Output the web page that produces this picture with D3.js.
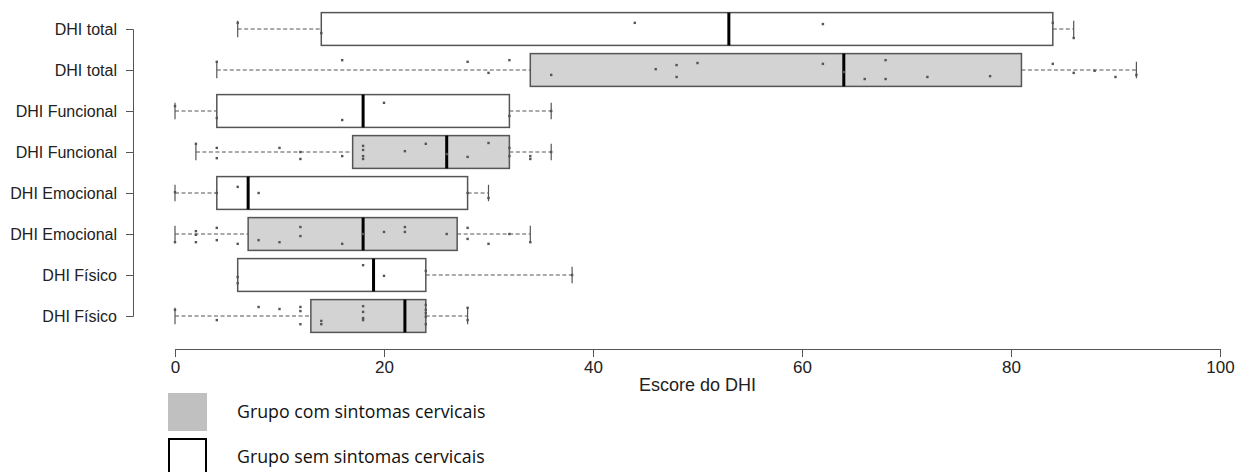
<!DOCTYPE html>
<html lang="pt">
<head>
    <meta charset="UTF-8">
    <title>Escore do DHI</title>
    <script src="https://d3js.org/d3.v7.min.js"></script>
    <style>
        body, html {
            margin: 0;
            background: #fff;
        }
        svg {
            display: block;
        }
        .axis text {
            font-family: 'Liberation Sans', Arial, sans-serif;
            fill: #222;
        }
        .axis path, .axis line {
            stroke: #555;
        }
        .legend text {
            font-family: 'Open Sans', sans-serif;
            font-size: 17.8px;
            fill: #111;
        }
    </style>
</head>
<body>
<script>
    // linhas de cima para baixo
    const rowLabels = ["DHI total", "DHI total", "DHI Funcional", "DHI Funcional",
                       "DHI Emocional", "DHI Emocional", "DHI Físico", "DHI Físico"];
    const rowGroups = ["sem", "com", "sem", "com", "sem", "com", "sem", "com"];

    // estatísticas dos boxplots
    const mins    = [6, 4, 0, 2, 0, 0, 6, 0];
    const q1s     = [14, 34, 4, 17, 4, 7, 6, 13];
    const medians = [53, 64, 18, 26, 7, 18, 19, 22];
    const q3s     = [84, 81, 32, 32, 28, 27, 24, 24];
    const maxs    = [86, 92, 36, 36, 30, 34, 38, 28];

    // pontos individuais: [escore, deslocamento vertical em fração da linha]
    const points = [
        [[6,-0.15],[14,0.1],[44,-0.15],[62,-0.12],[84,-0.15],[86,0.22]],
        [[4,-0.2],[16,-0.24],[28,-0.2],[30,0.07],[32,-0.24],[36,0.12],[46,-0.02],[48,-0.12],[48,0.17],
         [50,-0.17],[62,-0.15],[64,0.05],[66,0.22],[68,-0.24],[68,0.22],[72,0.17],[78,0.15],[84,-0.15],
         [86,0.07],[88,0.02],[90,0.17],[92,0.12]],
        [[0,-0.12],[4,0.17],[16,0.22],[20,-0.2],[32,0.12],[36,0]],
        [[2,-0.2],[4,-0.1],[4,0.15],[10,-0.1],[12,0],[12,0.17],[16,0.1],[18,-0.15],[18,-0.05],[18,0.1],
         [18,0.17],[22,-0.02],[24,-0.2],[26,0.05],[28,0.12],[30,-0.22],[32,-0.1],[32,0.1],[34,0.1],
         [34,0.17],[36,0]],
        [[0,-0.02],[4,0],[6,-0.15],[8,0],[28,0],[30,0.12]],
        [[0,0.2],[2,-0.07],[2,0.02],[2,0.2],[4,-0.15],[4,0.15],[6,0.24],[8,0.15],[10,0.2],[12,-0.17],
         [12,0.05],[16,0.24],[18,0],[20,-0.05],[22,-0.17],[22,-0.05],[26,0],[28,-0.15],[28,0.12],
         [30,0.24],[32,0],[34,0.2]],
        [[6,0.05],[6,0.2],[18,-0.24],[20,0.02],[24,-0.1],[38,0]],
        [[0,-0.15],[4,0.1],[8,-0.22],[10,-0.17],[12,-0.22],[12,-0.12],[12,0.2],[14,0.12],[14,0.2],
         [18,-0.24],[18,-0.1],[18,0.05],[18,0.1],[24,-0.27],[24,-0.15],[24,-0.07],[24,0.02],[24,0.2],
         [28,-0.2],[28,0.1]]
    ];

    const xTicks = [0, 20, 40, 60, 80, 100];
    const legendItems = [
        {label: "Grupo com sintomas cervicais", group: "com"},
        {label: "Grupo sem sintomas cervicais", group: "sem"}
    ];

    const width = 1251, height = 472;
    const svg = d3.select("body").append("svg")
        .attr("width", width)
        .attr("height", height);

    const x = d3.scaleLinear().domain([0, 100]).range([175, 1220]);
    const y = d3.scalePoint().domain(d3.range(rowLabels.length)).range([29, 316]);
    const step = y.step();
    const boxH = step * 0.8;
    const fill = {com: "#d3d3d3", sem: "#ffffff"};

    const rows = d3.range(rowLabels.length).map(i => ({
        i, group: rowGroups[i], min: mins[i], q1: q1s[i], med: medians[i], q3: q3s[i], max: maxs[i]
    }));

    const g = svg.append("g");
    const row = g.selectAll("g.row")
        .data(rows)
        .join("g")
        .attr("class", "row");

    // bigodes
    row.append("line")
        .attr("x1", d => x(d.min)).attr("x2", d => x(d.q1))
        .attr("y1", d => y(d.i)).attr("y2", d => y(d.i))
        .attr("stroke", "#555").attr("stroke-dasharray", "4,2.5");
    row.append("line")
        .attr("x1", d => x(d.q3)).attr("x2", d => x(d.max))
        .attr("y1", d => y(d.i)).attr("y2", d => y(d.i))
        .attr("stroke", "#555").attr("stroke-dasharray", "4,2.5");
    row.selectAll("line.cap")
        .data(d => [d.min, d.max].map(v => ({v, i: d.i})))
        .join("line")
        .attr("class", "cap")
        .attr("x1", d => x(d.v)).attr("x2", d => x(d.v))
        .attr("y1", d => y(d.i) - boxH / 4).attr("y2", d => y(d.i) + boxH / 4)
        .attr("stroke", "#555").attr("stroke-width", 1.2);

    // caixas
    row.append("rect")
        .attr("x", d => x(d.q1))
        .attr("width", d => x(d.q3) - x(d.q1))
        .attr("y", d => y(d.i) - boxH / 2)
        .attr("height", boxH)
        .attr("fill", d => fill[d.group])
        .attr("stroke", "#555")
        .attr("stroke-width", 1.5);

    // medianas
    row.append("line")
        .attr("x1", d => x(d.med)).attr("x2", d => x(d.med))
        .attr("y1", d => y(d.i) - boxH / 2).attr("y2", d => y(d.i) + boxH / 2)
        .attr("stroke", "#000").attr("stroke-width", 3);

    // pontos
    row.selectAll("rect.pt")
        .data(d => points[d.i].map(p => ({v: p[0], j: p[1], i: d.i})))
        .join("rect")
        .attr("class", "pt")
        .attr("x", d => x(d.v) - 1.2)
        .attr("y", d => y(d.i) + d.j * step - 1.2)
        .attr("width", 2.4).attr("height", 2.4)
        .attr("fill", "#555");

    // eixos
    const yAxis = svg.append("g")
        .attr("class", "axis")
        .attr("transform", "translate(133,0)")
        .call(d3.axisLeft(y).tickSizeOuter(0).tickSize(7).tickPadding(9)
            .tickFormat(i => rowLabels[i]));
    yAxis.selectAll("text").style("font-size", "16px");

    const xAxis = svg.append("g")
        .attr("class", "axis")
        .attr("transform", "translate(0,349)")
        .call(d3.axisBottom(x).tickValues(xTicks).tickSizeOuter(0).tickSize(8).tickPadding(4));
    xAxis.selectAll("text").style("font-size", "17px");

    svg.append("text")
        .attr("class", "axis")
        .attr("x", x(50))
        .attr("y", 391)
        .attr("text-anchor", "middle")
        .style("font-family", "'Liberation Sans', Arial, sans-serif")
        .style("font-size", "18px")
        .attr("fill", "#222")
        .text("Escore do DHI");

    // legenda
    const legend = svg.append("g").attr("class", "legend");
    const item = legend.selectAll("g")
        .data(legendItems)
        .join("g")
        .attr("transform", (d, i) => `translate(168,${393 + i * 45})`);
    item.append("rect")
        .attr("x", d => d.group === "sem" ? 1 : 0)
        .attr("y", d => d.group === "sem" ? 1 : 0)
        .attr("width", d => d.group === "sem" ? 37 : 39)
        .attr("height", d => d.group === "sem" ? 40 : 38)
        .attr("fill", d => d.group === "com" ? "#c0c0c0" : "none")
        .attr("stroke", d => d.group === "com" ? "none" : "#000")
        .attr("stroke-width", 2);
    item.append("text")
        .attr("x", 69)
        .attr("y", 19)
        .attr("dy", "0.35em")
        .text(d => d.label);
</script>
</body>
</html>
